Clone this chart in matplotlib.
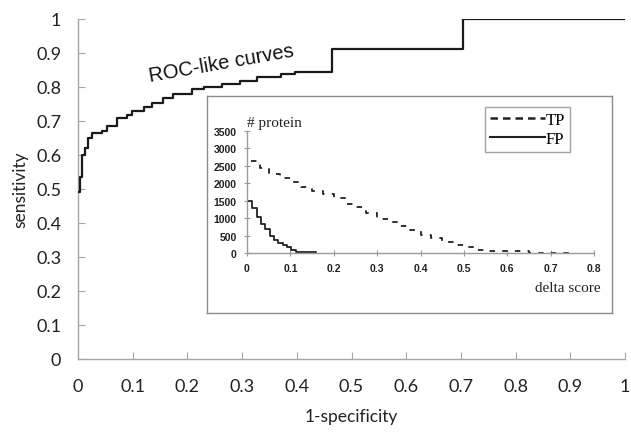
import matplotlib
matplotlib.use("Agg")
import matplotlib.pyplot as plt
from matplotlib.lines import Line2D

# ROC-like curve (1-specificity, sensitivity), step points
roc_fpr = [0.0, 0.003, 0.007, 0.013, 0.018, 0.026, 0.044, 0.053, 0.071, 0.090,
           0.098, 0.120, 0.135, 0.156, 0.174, 0.208, 0.230, 0.263, 0.296, 0.327,
           0.372, 0.397, 0.464, 0.704, 1.0]
roc_tpr = [0.49, 0.535, 0.60, 0.62, 0.65, 0.665, 0.67, 0.685, 0.708, 0.718,
           0.73, 0.74, 0.753, 0.767, 0.779, 0.794, 0.80, 0.81, 0.818, 0.829,
           0.838, 0.843, 0.912, 1.0, 1.0]

# Inset: number of proteins vs delta score
tp_delta = [0.01, 0.03, 0.05, 0.075, 0.10, 0.125, 0.15, 0.175, 0.20, 0.225, 0.25,
            0.275, 0.30, 0.325, 0.35, 0.375, 0.40, 0.425, 0.45, 0.475, 0.50,
            0.525, 0.55, 0.60, 0.65, 0.70, 0.75]
tp_count = [2650, 2450, 2280, 2150, 2040, 1900, 1780, 1680, 1580, 1420, 1320,
            1150, 975, 880, 775, 650, 515, 420, 315, 240, 170, 100, 60, 50, 10, 0, 0]
fp_delta = [0.0, 0.011, 0.022, 0.032, 0.042, 0.052, 0.062, 0.072, 0.082, 0.092,
            0.102, 0.112, 0.16]
fp_count = [1500, 1300, 1030, 840, 680, 500, 380, 300, 220, 170, 100, 30, 10]

main_xticks = [0, 0.1, 0.2, 0.3, 0.4, 0.5, 0.6, 0.7, 0.8, 0.9, 1]
main_xlabels = ["0", "0.1", "0.2", "0.3", "0.4", "0.5", "0.6", "0.7", "0.8", "0.9", "1"]
main_yticks = main_xticks
main_ylabels = main_xlabels
inset_xticks = [0, 0.1, 0.2, 0.3, 0.4, 0.5, 0.6, 0.7, 0.8]
inset_xlabels = ["0", "0.1", "0.2", "0.3", "0.4", "0.5", "0.6", "0.7", "0.8"]
inset_yticks = [0, 500, 1000, 1500, 2000, 2500, 3000, 3500]

W, H = 631, 435
fig = plt.figure(figsize=(W / 100, H / 100), dpi=100)

def fx(px):
    return px / W

def fy(py):
    return (H - py) / H

spine_c = "#a6a6a6"
sans = ["Lato", "DejaVu Sans"]

ax = fig.add_axes([fx(78), fy(360), (625 - 78) / W, (360 - 20) / H])
ax.step(roc_fpr, roc_tpr, where="post", color="#1a1a1a", lw=1.6, zorder=3)
ax.set_xlim(0, 1)
ax.set_ylim(0, 1)
for s in ["top", "right"]:
    ax.spines[s].set_visible(False)
for s in ["left", "bottom"]:
    ax.spines[s].set_color(spine_c)
    ax.spines[s].set_linewidth(1.0)
ax.set_xticks(main_xticks)
ax.set_xticklabels(main_xlabels, family=sans, fontsize=13, color="#222222")
ax.set_yticks(main_yticks)
ax.set_yticklabels(main_ylabels, family=sans, fontsize=13, color="#222222")
ax.tick_params(axis="x", direction="in", length=5, color=spine_c, pad=14)
ax.tick_params(axis="y", direction="in", length=5, color=spine_c, pad=12)
ax.set_xlabel("1-specificity", family=sans, fontsize=12.5, color="#222222", labelpad=10)
ax.set_ylabel("sensitivity", family=sans, fontsize=12.5, color="#222222", labelpad=6)
ax.text(0.263, 0.87, "ROC-like curves", transform=ax.transAxes, rotation=10,
        ha="center", va="center", fontsize=14.5, family=["Liberation Sans", "DejaVu Sans"],
        color="#111111")

# Inset frame
bg = fig.add_axes([fx(207), fy(314), (612 - 207) / W, (314 - 97) / H])
bg.set_facecolor("white")
bg.set_xticks([])
bg.set_yticks([])
for s in bg.spines.values():
    s.set_color("#8c8c8c")
    s.set_linewidth(1.0)

ia = fig.add_axes([fx(247), fy(254), (594 - 247) / W, (254 - 132) / H])
ia.patch.set_alpha(0)
ia.step(tp_delta, tp_count, where="post", color="#222222", lw=1.3,
        linestyle=(0, (3, 4)), label="TP")
ia.step(fp_delta, fp_count, where="post", color="#222222", lw=1.3, label="FP")
ia.set_xlim(0, 0.8)
ia.set_ylim(0, 3500)
for s in ["top", "right"]:
    ia.spines[s].set_visible(False)
for s in ["left", "bottom"]:
    ia.spines[s].set_color("#9a9a9a")
    ia.spines[s].set_linewidth(1.0)
bold = dict(family=["Liberation Sans", "DejaVu Sans"], fontsize=7.5, fontweight="bold",
            color="#222222")
ia.set_xticks(inset_xticks)
ia.set_xticklabels(inset_xlabels, **bold)
ia.set_yticks(inset_yticks)
ia.set_yticklabels([str(v) for v in inset_yticks], **bold)
ia.tick_params(direction="inout", length=5, color="#9a9a9a", pad=5)
serif = ["Liberation Serif", "DejaVu Serif"]
ia.text(0.0, 1.07, "# protein", transform=ia.transAxes, ha="left", va="center",
        family=serif, fontsize=11, color="#222222")
ia.text(1.02, -0.28, "delta score", transform=ia.transAxes, ha="right", va="center",
        family=serif, fontsize=11, color="#222222")

handles = [Line2D([], [], color="#222222", lw=1.8, linestyle=(0, (3, 2))),
           Line2D([], [], color="#222222", lw=1.5)]
leg = fig.legend(handles, ["TP", "FP"], loc="upper right",
                 bbox_to_anchor=(fx(570), fy(108)), frameon=True, fancybox=False,
                 prop={"family": serif, "size": 12}, handlelength=3.3,
                 handletextpad=0.05, borderpad=0.3, labelspacing=0.15,
                 borderaxespad=0)
leg.get_frame().set_edgecolor("#8c8c8c")
leg.get_frame().set_linewidth(1.0)
leg.set_zorder(10)

fig.savefig("out.png", dpi=100)
